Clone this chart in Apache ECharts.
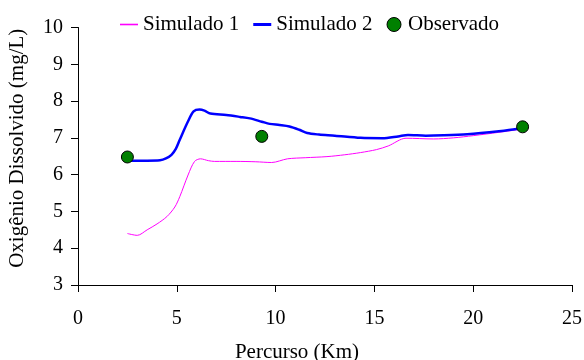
<!DOCTYPE html>
<html>
<head>
<meta charset="utf-8">
<script src="https://cdn.jsdelivr.net/npm/echarts@6/dist/echarts.min.js"></script>
<style>html,body{margin:0;padding:0;background:#fff}#c{width:584px;height:360px}</style>
</head>
<body>
<div id="c"></div>
<script>
const sim1X = [2.5, 3.0, 3.5, 4.0, 4.5, 4.9, 5.15, 5.57, 5.9, 6.2, 6.6, 6.9, 8.0, 9.0, 9.8, 10.6, 11.5, 12.6, 13.5, 14.3, 15.1, 15.7, 16.6, 18.0, 19.0, 20.0, 21.3, 22.2, 22.5];
const sim1Y = [4.40, 4.35, 4.50, 4.66, 4.86, 5.12, 5.40, 5.99, 6.36, 6.43, 6.38, 6.36, 6.36, 6.35, 6.33, 6.43, 6.46, 6.49, 6.54, 6.60, 6.68, 6.78, 6.99, 6.97, 7.00, 7.06, 7.15, 7.22, 7.26];
const sim2X = [2.5, 3.0, 3.5, 4.15, 4.45, 4.73, 4.95, 5.15, 5.57, 5.85, 6.15, 6.4, 6.7, 7.5, 8.2, 8.7, 9.3, 9.7, 10.2, 10.7, 11.2, 11.6, 12.2, 13.0, 14.3, 15.4, 16.2, 16.7, 17.6, 18.5, 19.7, 21.3, 22.2, 22.5];
const sim2Y = [6.38, 6.38, 6.38, 6.39, 6.44, 6.54, 6.70, 6.95, 7.45, 7.72, 7.77, 7.74, 7.66, 7.62, 7.57, 7.53, 7.44, 7.38, 7.35, 7.31, 7.22, 7.13, 7.09, 7.06, 7.00, 6.99, 7.04, 7.08, 7.06, 7.07, 7.10, 7.18, 7.24, 7.28];
const obsX = [2.5, 9.3, 22.5];
const obsY = [6.48, 7.04, 7.30];
const seriesNames = ['Simulado 1', 'Simulado 2', 'Observado'];
const xTitle = 'Percurso (Km)';
const yTitle = 'Oxigênio Dissolvido (mg/L)';

const zip = (a, b) => a.map((v, i) => [v, b[i]]);
const FONT = 'Liberation Serif';
const chart = echarts.init(document.getElementById('c'), null, {renderer: 'canvas'});
chart.setOption({
  animation: false,
  textStyle: {fontFamily: FONT, color: '#000'},
  grid: {left: 78, right: 12, top: 27.5, bottom: 75, outerBoundsMode: 'none', containLabel: false},
  legend: {
    left: 115, top: 9, itemGap: 14, itemWidth: 18, itemHeight: 14,
    textStyle: {fontFamily: FONT, fontSize: 21, color: '#000'},
    data: [
      {name: seriesNames[0], icon: 'path://M0,6 H18 V7.6 H0 Z', itemStyle: {color: '#ff00ff'}},
      {name: seriesNames[1], icon: 'path://M0,5.5 H18 V8.5 H0 Z', itemStyle: {color: '#0000ff'}},
      {name: seriesNames[2], icon: 'circle', itemStyle: {color: '#008000', borderColor: '#000', borderWidth: 1}}
    ]
  },
  xAxis: {
    type: 'value', min: 0, max: 25, interval: 5,
    name: xTitle, nameLocation: 'middle', nameGap: 57,
    nameTextStyle: {fontFamily: FONT, fontSize: 21, color: '#000', padding: [0, 56, 0, 0]},
    axisLine: {show: true, lineStyle: {color: '#000', width: 1}},
    axisTick: {show: true, length: 7, lineStyle: {color: '#000'}},
    axisLabel: {fontFamily: FONT, fontSize: 20, color: '#000', margin: 24},
    splitLine: {show: false}
  },
  yAxis: {
    type: 'value', min: 3, max: 10, interval: 1,
    name: yTitle, nameLocation: 'middle', nameGap: 50,
    nameTextStyle: {fontFamily: FONT, fontSize: 21, color: '#000', padding: [0, 0, 0, 16]},
    axisLine: {show: true, lineStyle: {color: '#000', width: 1}},
    axisTick: {show: true, length: 7, lineStyle: {color: '#000'}},
    axisLabel: {fontFamily: FONT, fontSize: 20, color: '#000', margin: 15},
    splitLine: {show: false}
  },
  series: [
    {name: seriesNames[0], type: 'line', data: zip(sim1X, sim1Y), smooth: 0.3, symbol: 'none',
     lineStyle: {color: '#ff00ff', width: 1}, itemStyle: {color: '#ff00ff'}, z: 2},
    {name: seriesNames[1], type: 'line', data: zip(sim2X, sim2Y), smooth: 0.3, symbol: 'none',
     lineStyle: {color: '#0000ff', width: 2.5}, itemStyle: {color: '#0000ff'}, z: 3},
    {name: seriesNames[2], type: 'scatter', data: zip(obsX, obsY), symbol: 'circle', symbolSize: 12,
     itemStyle: {color: '#008000', borderColor: '#000', borderWidth: 1, opacity: 1}, z: 4}
  ]
});
</script>
</body>
</html>
